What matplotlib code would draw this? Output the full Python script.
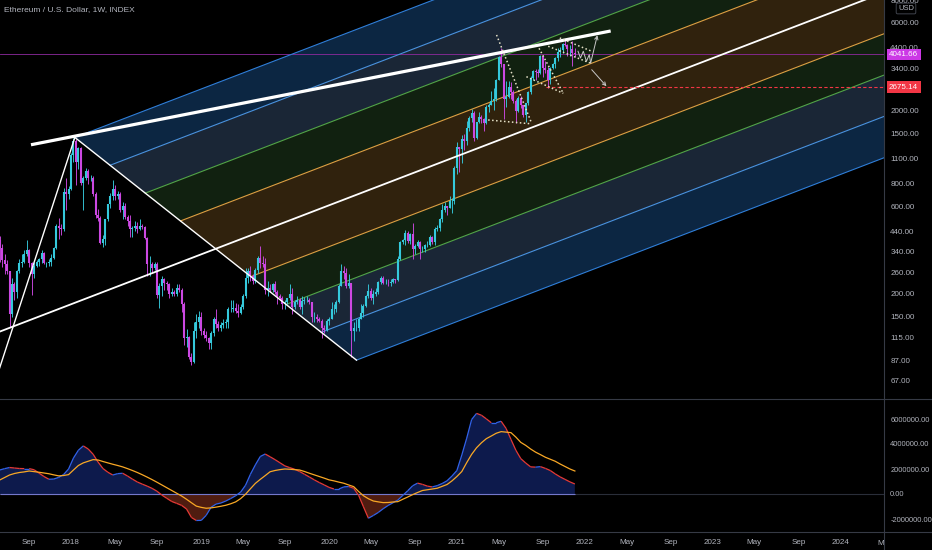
import matplotlib
matplotlib.use('Agg')
import matplotlib.pyplot as plt
import matplotlib.dates as mdates
from matplotlib.collections import LineCollection
from matplotlib.ticker import FixedLocator, NullLocator, FuncFormatter
from matplotlib.transforms import Bbox, TransformedBbox
import numpy as np
import pandas as pd

plt.rcParams['font.family'] = ['Liberation Sans Narrow', 'Liberation Sans', 'DejaVu Sans']

# weekly ETHUSD candles, Monday 2017-06-12 .. 2021-12-06 (open = previous close)
first_open = 395
week_high = [
    415, 375, 330, 305, 268, 245, 232, 270, 310, 330, 345, 395, 350, 300, 300, 305, 315, 345, 340, 300,
    310, 330, 360, 480, 520, 480, 760, 860, 770,
    # 2018
    1170, 1420, 1390, 1260, 1260, 880, 970, 960, 890, 880, 720, 580, 530, 420, 515, 620, 710, 835, 780, 730,
    720, 630, 625, 540, 540, 470, 500, 490, 510, 480, 470, 410, 320, 300, 300, 300, 230, 250, 245, 235,
    230, 215, 210, 225, 225, 215, 180, 128, 118, 95, 140, 155, 162,
    # 2019
    160, 130, 125, 117, 125, 150, 165, 142, 140, 145, 145, 170, 185, 185, 178, 175, 175, 200, 275, 275,
    285, 255, 275, 320, 365, 320, 315, 235, 225, 230, 235, 210, 200, 195, 185, 190, 225, 215, 185, 195,
    190, 195, 192, 195, 190, 180, 160, 155, 150, 145, 135, 145,
    # 2020
    150, 180, 175, 185, 225, 290, 285, 275, 255, 230, 140, 145, 150, 175, 175, 198, 225, 215, 210, 215,
    235, 250, 250, 240, 240, 240, 245, 242, 320, 390, 400, 445, 440, 430, 485, 375, 395, 390, 365, 375,
    390, 420, 415, 465, 475, 520, 620, 630, 605, 680, 670, 1000,
    # 2021
    1350, 1270, 1470, 1480, 1750, 1875, 2040, 1980, 1730, 1950, 1880, 1820, 2150, 2190, 2550, 2645, 2960, 3980, 4380, 3600,
    2900, 2900, 2850, 2600, 2300, 2400, 2400, 2150, 2200, 2550, 3100, 3330, 3350, 3360, 4020, 3950, 3700, 3450, 3450, 3650,
    3900, 4380, 4450, 4660, 4870, 4600, 4550, 4780, 4400,
]
week_low = [
    300, 280, 255, 255, 132, 150, 185, 190, 260, 280, 295, 320, 280, 197, 245, 280, 285, 295, 290, 280,
    285, 285, 310, 350, 400, 420, 440, 570, 660,
    # 2018
    740, 1050, 780, 960, 780, 570, 830, 790, 820, 680, 520, 500, 375, 360, 370, 500, 590, 650, 650, 660,
    560, 510, 510, 470, 410, 410, 440, 430, 445, 450, 400, 250, 250, 260, 270, 190, 168, 195, 210, 210,
    190, 195, 195, 195, 205, 160, 105, 103, 88, 82, 84, 115, 130,
    # 2019
    120, 115, 110, 100, 100, 118, 130, 125, 125, 130, 130, 130, 160, 160, 158, 150, 155, 165, 190, 230,
    235, 225, 230, 260, 275, 280, 200, 195, 205, 205, 200, 175, 185, 165, 165, 175, 185, 155, 165, 175,
    165, 155, 175, 180, 175, 140, 140, 140, 140, 115, 122, 125,
    # 2020
    135, 145, 155, 160, 178, 220, 240, 215, 215, 90, 110, 125, 125, 145, 150, 170, 190, 185, 175, 195,
    200, 225, 225, 225, 220, 220, 230, 230, 235, 305, 375, 370, 380, 375, 310, 330, 360, 310, 340, 340,
    360, 365, 375, 370, 440, 440, 490, 560, 540, 585, 550, 620,
    # 2021
    900, 920, 1040, 1220, 1300, 1540, 1730, 1370, 1400, 1700, 1710, 1550, 1680, 1960, 2130, 2000, 2250, 2920, 3450, 1800,
    2100, 2350, 2300, 2200, 1700, 1950, 2050, 1850, 1720, 2150, 2450, 2950, 2930, 3050, 3150, 3050, 3200, 2650, 2800, 3350,
    3400, 3700, 3900, 4140, 4500, 3950, 3950, 3500, 3900,
]
week_close = [
    355, 305, 290, 265, 155, 225, 205, 265, 295, 300, 330, 345, 295, 255, 285, 300, 308, 335, 295, 295,
    300, 315, 355, 470, 460, 450, 720, 700, 750,
    # 2018
    1150, 1360, 1050, 1250, 800, 860, 940, 860, 860, 700, 540, 520, 380, 400, 510, 615, 680, 750, 680, 700,
    570, 600, 525, 500, 450, 460, 470, 450, 470, 465, 405, 290, 290, 275, 290, 197, 220, 240, 230, 225,
    200, 205, 200, 215, 210, 175, 115, 117, 90, 85, 125, 140, 150,
    # 2019
    125, 120, 115, 108, 122, 145, 137, 130, 135, 138, 140, 165, 165, 168, 162, 158, 170, 195, 245, 265,
    250, 235, 270, 315, 295, 290, 210, 215, 210, 225, 205, 195, 190, 175, 180, 190, 200, 170, 180, 185,
    170, 182, 185, 185, 180, 150, 150, 145, 142, 130, 127, 142,
    # 2020
    146, 165, 165, 180, 222, 265, 260, 220, 228, 125, 130, 130, 145, 158, 172, 195, 208, 190, 200, 205,
    232, 245, 230, 230, 228, 232, 240, 238, 310, 385, 395, 430, 390, 425, 350, 365, 385, 350, 350, 370,
    370, 410, 385, 450, 460, 510, 575, 600, 590, 640, 640, 975,
    # 2021
    1260, 1230, 1390, 1370, 1610, 1810, 1935, 1420, 1720, 1850, 1790, 1700, 2080, 2145, 2240, 2310, 2950, 3900, 3580, 2300,
    2380, 2700, 2510, 2250, 1980, 2330, 2140, 1900, 2190, 2530, 3000, 3300, 3250, 3220, 3950, 3400, 3330, 2920, 3420, 3580,
    3850, 4170, 4290, 4620, 4570, 4300, 4300, 4100, 4041.66,
]

# lower pane oscillator (millions), one value every two weeks from 2017-06-12
osc = [
    1.92, 2.03, 2.12, 2.08, 2.04, 2.03, 2.03, 1.94, 1.67, 1.40,
    1.18, 1.20, 1.33, 1.56, 2.00, 2.88, 3.50, 3.85, 3.60, 3.18,
    2.56, 2.04, 1.74, 1.52, 1.63, 1.66, 1.44, 1.19, 0.96, 0.79,
    0.63, 0.45, 0.22, -0.09, -0.35, -0.60, -0.75, -0.91, -1.20, -1.88,
    -2.12, -2.11, -1.71, -1.06, -0.81, -0.72, -0.56, -0.36, -0.14, 0.15,
    0.70, 1.58, 2.33, 3.00, 3.20, 2.98, 2.75, 2.50, 2.25, 2.11,
    1.98, 1.80, 1.58, 1.36, 1.13, 0.92, 0.73, 0.53, 0.40, 0.40,
    0.57, 0.60, 0.46, -0.10, -1.03, -1.94, -1.72, -1.48, -1.18, -0.92,
    -0.70, -0.48, -0.11, 0.26, 0.66, 0.87, 0.77, 0.63, 0.57, 0.67,
    0.84, 1.06, 1.44, 1.88, 3.12, 4.47, 5.96, 6.45, 6.30, 6.01,
    5.70, 5.70, 5.82, 5.25, 4.37, 3.50, 2.83, 2.48, 2.17, 2.15,
    2.19, 2.05, 1.88, 1.61, 1.37, 1.17, 0.97, 0.80,
]
signal = [
    1.12, 1.32, 1.52, 1.64, 1.72, 1.77, 1.84, 1.79, 1.74, 1.68,
    1.62, 1.53, 1.45, 1.48, 1.55, 1.92, 2.28, 2.49, 2.62, 2.75,
    2.72, 2.60, 2.49, 2.38, 2.28, 2.17, 2.03, 1.88, 1.72, 1.54,
    1.35, 1.15, 0.94, 0.72, 0.50, 0.28, 0.06, -0.16, -0.42, -0.70,
    -0.97, -1.07, -1.14, -1.11, -1.05, -0.98, -0.90, -0.78, -0.63, -0.37,
    -0.02, 0.42, 0.85, 1.17, 1.47, 1.78, 1.88, 1.95, 2.00, 1.98,
    1.95, 1.92, 1.80, 1.66, 1.53, 1.40, 1.27, 1.13, 1.05, 0.95,
    0.86, 0.72, 0.59, 0.20, -0.14, -0.38, -0.56, -0.63, -0.69, -0.68,
    -0.64, -0.61, -0.42, -0.24, -0.05, 0.12, 0.28, 0.34, 0.40, 0.46,
    0.61, 0.76, 1.05, 1.40, 1.80, 2.51, 3.17, 3.70, 4.10, 4.43,
    4.64, 4.86, 4.99, 4.95, 4.91, 4.55, 4.13, 3.89, 3.60, 3.35,
    3.15, 2.94, 2.78, 2.62, 2.40, 2.20, 2.00, 1.84,
]

# drawings
fork_a = ('2016-11-28', 5.6)
fork_b = ('2018-01-12', 1425)
fork_c = ('2020-03-24', 87)
fork_levels = [0.0, 0.125, 0.25, 0.375, 0.5, 0.625, 0.75, 0.875, 1.0]
fork_line_colors = ['#2f7ed8', '#4a93e0', '#52a548', '#dda043', 'white',
                    '#dda043', '#52a548', '#4a93e0', '#2f7ed8']
fork_fill_colors = ['#0c2642', '#1a2636', '#112110', '#30220d',
                    '#30220d', '#112110', '#1a2636', '#0c2642']
resistance = [('2017-09-09', 1300), ('2022-03-18', 5425)]
dotted_lines = [
    [('2021-04-27', 5160), ('2021-08-05', 1700)],
    [('2021-04-03', 1775), ('2021-08-05', 1690)],
    [('2021-08-26', 4365), ('2021-11-03', 2480)],
    [('2021-07-21', 3056), ('2021-11-03', 2480)],
    [('2021-10-24', 4970), ('2022-01-23', 4205)],
    [('2021-09-21', 4477), ('2022-01-18', 3630)],
]
zigzag = [('2021-12-15', 4205), ('2021-12-22', 3866), ('2021-12-30', 4205),
          ('2022-01-08', 3709), ('2022-01-16', 4030), ('2022-01-20', 3630),
          ('2022-02-08', 5140)]
down_arrow = [('2022-01-23', 3337), ('2022-03-06', 2710)]
last_price = 4041.66
target_price = 2675.14
target_from = '2021-09-14'
price_ticks = [67, 87, 115, 150, 200, 260, 340, 440, 600, 800, 1100, 1500, 2000, 3400, 4400, 6000, 8000]
osc_ticks = [-2, 0, 2, 4, 6]

W, H = 932, 550
BG = '#000000'
TXT = '#b2b5be'
GRID = '#363a45'

fig = plt.figure(figsize=(W / 100, H / 100), dpi=100, facecolor=BG)
ax = fig.add_axes([0, 1 - 399 / H, 884 / W, 399 / H])
ax2 = fig.add_axes([0, 1 - 532 / H, 884 / W, 133 / H], sharex=ax)
for a in (ax, ax2):
    a.set_facecolor(BG)
    for s in a.spines.values():
        s.set_visible(False)


def dn(d):
    return mdates.date2num(pd.Timestamp(d))


def pts(seq):
    return [dn(d) for d, _ in seq], [p for _, p in seq]


t0 = pd.Timestamp('2018-01-01')
ax.set_xlim(dn(t0 - pd.Timedelta(days=202.2)), dn(t0 + pd.Timedelta(days=2315.4)))
ax.set_yscale('log')
ax.set_ylim(53.4, 8005)

# ---- pitchfork (Schiff) ----
ax_x, ay = dn(fork_a[0]), np.log10(fork_a[1])
bx, by = dn(fork_b[0]), np.log10(fork_b[1])
cx, cy = dn(fork_c[0]), np.log10(fork_c[1])
ox, oy = ax_x, (ay + by) / 2
mx, my = (bx + cx) / 2, (by + cy) / 2
dx, dy = mx - ox, my - oy
reach = 4.0


def fork_pts(t):
    sx, sy = bx + t * (cx - bx), by + t * (cy - by)
    return (sx, sy), (sx + reach * dx, sy + reach * dy)


for i in range(len(fork_levels) - 1):
    s1, e1 = fork_pts(fork_levels[i])
    s2, e2 = fork_pts(fork_levels[i + 1])
    xs = [s1[0], e1[0], e2[0], s2[0]]
    ys = 10 ** np.array([s1[1], e1[1], e2[1], s2[1]])
    ax.fill(xs, ys, color=fork_fill_colors[i], lw=0, zorder=1)

for t, col in zip(fork_levels, fork_line_colors):
    s, e = fork_pts(t)
    if t == 0.5:
        s = (ox, oy)
        ax.plot([s[0], e[0]], 10 ** np.array([s[1], e[1]]), color=col, lw=1.3, zorder=4)
    else:
        ax.plot([s[0], e[0]], 10 ** np.array([s[1], e[1]]), color=col, lw=0.8, zorder=2)

# handle lines A-B and B-C
ax.plot([ax_x, bx], [fork_a[1], fork_b[1]], color='white', lw=1.0, zorder=4)
ax.plot([bx, cx], [fork_b[1], fork_c[1]], color='white', lw=1.0, zorder=4)

# horizontal price lines
ax.axhline(last_price, color='#8e2a9e', lw=0.6, zorder=1.5)
ax.plot([dn(target_from), dn('2030-01-01')], [target_price] * 2, color='#f23645',
        lw=0.8, ls=(0, (3, 2)), zorder=4)

# ---- candles ----
dates = mdates.date2num(pd.date_range('2017-06-12', periods=len(week_close), freq='7D'))
close = np.array(week_close, dtype=float)
opens = np.array([first_open] + week_close[:-1], dtype=float)
high = np.array(week_high, dtype=float)
low = np.array(week_low, dtype=float)
cols = np.where(close >= opens, '#35c9dc', '#cc48e2')
ax.vlines(dates, low, high, colors=cols, lw=0.65, zorder=3)
ax.vlines(dates, np.minimum(opens, close), np.maximum(opens, close), colors=cols,
          lw=1.5, zorder=3, capstyle='butt')

# ---- drawings ----
rx, ry = pts(resistance)
ax.plot(rx, ry, color='white', lw=2.3, zorder=5, solid_capstyle='butt')
for seg in dotted_lines:
    x, y = pts(seg)
    ax.plot(x, y, color='#e6e2c8', lw=1.1, ls=(0, (1, 1.6)), zorder=5)
zx, zy = pts(zigzag)
ax.plot(zx[:-1], zy[:-1], color='#c8c8c8', lw=0.7, zorder=5)
ax.annotate('', xy=(zx[-1], zy[-1]), xytext=(zx[-2], zy[-2]),
            arrowprops=dict(arrowstyle='->', color='#c8c8c8', lw=0.7,
                            shrinkA=0, shrinkB=0, mutation_scale=6), zorder=5)
ddx, ddy = pts(down_arrow)
ax.annotate('', xy=(ddx[1], ddy[1]), xytext=(ddx[0], ddy[0]),
            arrowprops=dict(arrowstyle='->', color='#c8c8c8', lw=0.7,
                            shrinkA=0, shrinkB=0, mutation_scale=6), zorder=5)

# price axis
ax.yaxis.set_major_locator(FixedLocator(price_ticks))
ax.yaxis.set_minor_locator(NullLocator())
ax.yaxis.set_major_formatter(FuncFormatter(lambda v, p: f'{v:.2f}'))
ax.yaxis.tick_right()
ax.tick_params(axis='y', length=0, pad=4.5, labelsize=5.8, colors=TXT)
ax.tick_params(axis='x', bottom=False, labelbottom=False)

ytr = ax.get_yaxis_transform()
ax.text(1 + 5 / 884, last_price, f'{last_price:.2f}', transform=ytr, color='white',
        fontsize=5.8, va='center', ha='left', zorder=10, clip_on=False,
        bbox=dict(boxstyle='square,pad=0.3', fc='#cc38e6', ec='none'))
ax.text(1 + 5 / 884, target_price, f'{target_price:.2f}', transform=ytr, color='white',
        fontsize=5.8, va='center', ha='left', zorder=10, clip_on=False,
        bbox=dict(boxstyle='square,pad=0.3', fc='#f23645', ec='none'))

# ---- oscillator pane ----
ox_dates = mdates.date2num(pd.date_range('2017-06-12', periods=len(osc), freq='14D'))
o = np.array(osc)
ax2.axhline(0, color='#2a2e39', lw=0.8, zorder=0.5)
ax2.fill_between(ox_dates, 0, o, where=o >= 0, interpolate=True, color='#0d1a4c', lw=0, zorder=1)
ax2.fill_between(ox_dates, 0, o, where=o <= 0, interpolate=True, color='#4f1c10', lw=0, zorder=1)
ax2.hlines(0, ox_dates[0], ox_dates[-1], color='#7478cc', lw=0.8, zorder=2)
segs = np.stack([np.column_stack([ox_dates[:-1], o[:-1]]),
                 np.column_stack([ox_dates[1:], o[1:]])], axis=1)
seg_cols = np.where(np.diff(o) >= 0, '#3162e8', '#e53935')
ax2.add_collection(LineCollection(segs, colors=seg_cols, lw=0.9, zorder=3))
ax2.plot(ox_dates, signal, color='#f9a825', lw=0.9, zorder=4)
ax2.set_ylim(-3.04, 7.6)
ax2.yaxis.set_major_locator(FixedLocator(osc_ticks))
ax2.yaxis.set_minor_locator(NullLocator())
ax2.yaxis.set_major_formatter(FuncFormatter(lambda v, p: f'{v * 1e6:.2f}'))
ax2.yaxis.tick_right()
ax2.tick_params(axis='y', length=0, pad=4.5, labelsize=5.4, colors=TXT)

# time axis: first Monday of Jan / May / Sep
mons = pd.date_range('2017-09-01', '2024-06-30', freq='WOM-1MON')
mons = [m for m in mons if m.month in (1, 5, 9)]
lo_x, hi_x = ax.get_xlim()
tick_x, tick_lab = [], []
for m in mons:
    lab = str(m.year) if m.month == 1 else m.strftime('%b')
    if lo_x <= dn(m) <= hi_x:
        tick_x.append(dn(m))
        tick_lab.append(lab)
    else:
        tt = ax2.text(dn(m), -8 / 133, lab, transform=ax2.get_xaxis_transform(), color=TXT,
                      fontsize=5.8, ha='center', va='top', clip_on=True)
        tt.set_clip_box(TransformedBbox(Bbox([[0, 0], [884 / W, 1]]), fig.transFigure))
ax2.set_xticks(tick_x)
ax2.set_xticklabels(tick_lab)
ax2.tick_params(axis='x', length=0, pad=5, labelsize=5.8, colors=TXT)

# pane separators
for yy in (399, 532):
    fig.add_artist(plt.Line2D([0, 1], [1 - yy / H] * 2, transform=fig.transFigure,
                              color=GRID, lw=0.8))
fig.add_artist(plt.Line2D([884 / W] * 2, [0, 1], transform=fig.transFigure, color=GRID, lw=0.8))

fig.text(4 / W, 1 - 10 / H, 'Ethereum / U.S. Dollar, 1W, INDEX', color=TXT, fontsize=6.0,
         va='center', ha='left')
fig.text(906 / W, 1 - 8.5 / H, 'USD', color=TXT, fontsize=5.4, va='center', ha='center',
         bbox=dict(boxstyle='round,pad=0.25,rounding_size=0.2', fc=BG, ec='#4a4e59', lw=0.6))

fig.savefig('out.png', dpi=100, facecolor=BG)
